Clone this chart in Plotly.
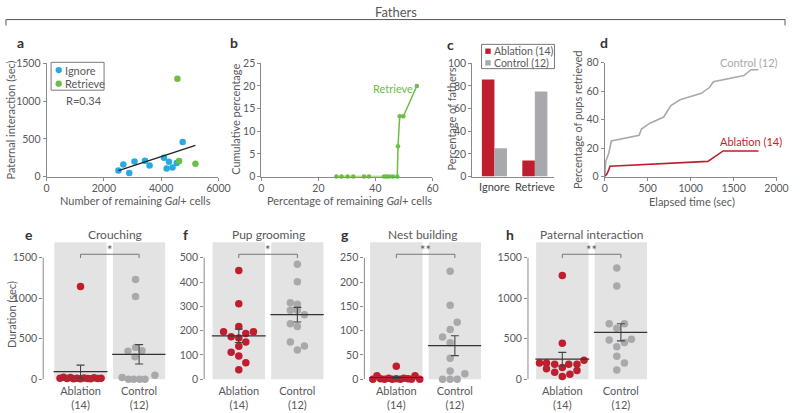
import numpy as np
import plotly.graph_objs as go

# ---- data ----
# a: paternal interaction vs remaining Gal+ cells
ign_cells = [2507, 2679, 2885, 3069, 3435, 3595, 4099, 4191, 4271, 4397, 4546, 4752]
ign_inter = [81, 159, 47, 201, 210, 146, 249, 107, 197, 120, 180, 459]
ret_cells = [4569, 4626, 5198]
ret_inter = [1294, 206, 171]

# b: cumulative percentage of retrievers
b_pct = [26.3, 28.1, 30.2, 32.2, 36.0, 37.7, 43.0, 43.9, 44.8, 46.1, 47.65, 47.9, 48.5, 49.8, 54.5]
b_cum = [0, 0, 0, 0, 0, 0, 0, 0, 0, 0, 0, 6.67, 13.3, 13.3, 20]

# c: percentage of fathers
c_cats = ["Ignore", "Retrieve"]
c_abl = [85.7, 14.3]
c_ctl = [25, 75]

# d: percentage of pups retrieved over time
d_ctl_t = [0, 11, 46, 55, 76, 400, 427, 526, 686, 770, 876, 1124, 1219, 1265, 1619, 1703, 1790]
d_ctl_p = [0, 10.7, 16.4, 18.5, 25, 29, 33.4, 37.5, 41.8, 49.8, 53.9, 58.4, 62.5, 66.6, 70.9, 75, 75]
d_abl_t = [0, 25, 45, 60, 1200, 1379, 1790]
d_abl_p = [0, 2, 4.5, 7.3, 10.7, 18, 18]

# e-h: durations (sec), with swarm offsets
e_abl = [1144, 10, 24, 8, 20, 5, 12, 6, 15, 9, 4, 18, 7, 11]
e_abl_dx = [0, -0.35, -0.29, -0.23, -0.17, -0.12, -0.06, 0, 0.06, 0.12, 0.17, 0.23, 0.29, 0.35]
e_ctl = [1232, 1020, 344, 392, 352, 276, 20, 0, 0, 0, 0, 48]
e_ctl_dx = [-0.06, -0.06, -0.19, -0.06, 0.05, -0.07, -0.29, -0.18, -0.09, 0.01, 0.1, 0.27]

f_abl = [448, 311, 217, 195, 175, 169, 188, 195, 153, 135, 111, 95, 68, 39]
f_abl_dx = [0, 0, 0, -0.26, -0.13, 0, 0.12, 0.25, 0.12, 0, -0.13, 0, 0.12, 0]
f_ctl = [473, 401, 315, 308, 284, 284, 265, 228, 217, 153, 137, 120]
f_ctl_dx = [0, 0, -0.12, 0, -0.12, 0, 0.12, -0.12, 0, -0.12, 0.12, 0]

g_abl = [26.6, 0, 7, 1, 0, 2, 0, 1, 0, 2, 1, 0, 7, 0]
g_abl_dx = [0, -0.4, -0.33, -0.27, -0.2, -0.13, -0.07, 0, 0.07, 0.13, 0.2, 0.26, 0.32, 0.4]
g_ctl = [222, 152, 117, 102, 87, 75, 43, 17, 11, 0, 0, 0]
g_ctl_dx = [-0.08, -0.08, 0.04, -0.08, -0.21, -0.08, -0.08, -0.08, 0.17, -0.21, -0.08, 0.04]

h_abl = [1280, 444, 200, 200, 184, 184, 184, 232, 128, 84, 144, 60, 108, 32]
h_abl_dx = [0, 0, -0.39, -0.27, -0.13, 0.11, 0.25, 0.37, -0.27, -0.13, 0, 0.13, 0.25, 0]
h_ctl = [1372, 1152, 684, 684, 628, 484, 492, 452, 400, 284, 200, 112]
h_ctl_dx = [-0.07, -0.07, -0.2, 0.06, -0.07, -0.2, 0.18, 0.06, -0.07, -0.07, 0.06, -0.07]

# ---- style ----
W, H = 800, 413
FONT = "Lato, 'Open Sans', sans-serif"
TXT = "#58595b"
AX = "#8a8a8a"
RED = "#be1e2d"
GRAY = "#a7a9ac"
BLUE = "#27aae1"
GREEN = "#6dbe45"
BG = "#e3e3e3"
TICK = 10.5


def px(x):
    return x / W


def py(y):
    return 1 - y / H


def note(text, x, y, size=11, color=TXT, xa="center", angle=0, bold=False):
    if bold:
        text = "<b>" + text + "</b>"
    return dict(text=text, x=px(x), y=py(y), xref="paper", yref="paper", showarrow=False,
                xanchor=xa, yanchor="middle", textangle=angle, borderpad=0,
                font=dict(size=size, color=color, family=FONT))


def axis(**kw):
    d = dict(showline=True, linecolor=AX, linewidth=1, ticks="outside", ticklen=3, tickcolor=AX,
             tickfont=dict(size=TICK, color=TXT), showgrid=False, zeroline=False)
    d.update(kw)
    return d


fig = go.Figure()
shapes = []
annots = []

# ---- a ----
fig.add_trace(go.Scatter(x=ign_cells, y=ign_inter, mode="markers", marker=dict(color=BLUE, size=6.5),
                         xaxis="x", yaxis="y", showlegend=False, cliponaxis=False))
fig.add_trace(go.Scatter(x=ret_cells, y=ret_inter, mode="markers", marker=dict(color=GREEN, size=6.5),
                         xaxis="x", yaxis="y", showlegend=False, cliponaxis=False))
all_x = np.array(ign_cells + ret_cells, dtype=float)
all_y = np.array(ign_inter + ret_inter, dtype=float)
k, b0 = np.polyfit(all_x, all_y, 1)
r = np.corrcoef(all_x, all_y)[0, 1]
fx = np.array([all_x.min(), all_x.max()])
fig.add_trace(go.Scatter(x=fx, y=k * fx + b0, mode="lines", line=dict(color="#222", width=1.3),
                         xaxis="x", yaxis="y", showlegend=False))

# ---- b ----
fig.add_trace(go.Scatter(x=b_pct, y=b_cum, mode="lines+markers", line=dict(color=GREEN, width=1.5),
                         marker=dict(color=GREEN, size=4.5), xaxis="x2", yaxis="y2",
                         showlegend=False, cliponaxis=False))

# ---- c ----
fig.add_trace(go.Bar(x=c_cats, y=c_abl, marker=dict(color=RED, line_width=0), xaxis="x3", yaxis="y3",
                     showlegend=False))
fig.add_trace(go.Bar(x=c_cats, y=c_ctl, marker=dict(color=GRAY, line_width=0), xaxis="x3", yaxis="y3",
                     showlegend=False))

# ---- d ----
fig.add_trace(go.Scatter(x=d_ctl_t, y=d_ctl_p, mode="lines", line=dict(color=GRAY, width=1.6),
                         xaxis="x4", yaxis="y4", showlegend=False))
fig.add_trace(go.Scatter(x=d_abl_t, y=d_abl_p, mode="lines", line=dict(color=RED, width=1.6),
                         xaxis="x4", yaxis="y4", showlegend=False))

# ---- e-h ----
bottom = [
    ("e", "Crouching", "*", e_abl, e_abl_dx, e_ctl, e_ctl_dx, 1500, 500, 41, 79, 113.7, 27),
    ("f", "Pup grooming", "*", f_abl, f_abl_dx, f_ctl, f_ctl_dx, 500, 100, 205, 240.3, 270.8, 186),
    ("g", "Nest building", "**", g_abl, g_abl_dx, g_ctl, g_ctl_dx, 250, 50, 368.3, 400.8, 428.3, 349),
    ("h", "Paternal interaction", "**", h_abl, h_abl_dx, h_ctl, h_ctl_dx, 1500, 500, 535, 570, 599.5, 517),
]
UNIT = 59.7
Y0, Y1500, YTOP = 384.3, 259.3, 243.3
layout_axes = {}
for i, (lab, title, star, abl, abl_dx, ctl, ctl_dx, ymax, dt, ax_px, c_px, t_px, l_px) in enumerate(bottom):
    n = i + 5
    xa, ya = "x%d" % n, "y%d" % n
    top = ymax * (Y0 - YTOP) / (Y0 - Y1500)
    left = -(c_px - ax_px) / UNIT
    right = 1.45
    layout_axes["xaxis%d" % n] = dict(domain=[px(ax_px), px(c_px + right * UNIT)], range=[left, right],
                                      anchor=ya, showline=False, showgrid=False, zeroline=False,
                                      tickvals=[0, 1], ticktext=["Ablation<br>(14)", "Control<br>(12)"],
                                      ticks="", ticklabelstandoff=4,
                                      tickfont=dict(size=11, color=TXT))
    layout_axes["yaxis%d" % n] = axis(domain=[py(Y0), py(YTOP)], range=[0, top], anchor=xa,
                                      showline=False, tickvals=list(range(0, ymax + 1, dt)))
    # y axis line only up to the last tick
    shapes.append(dict(type="line", xref=xa + " domain", yref=ya, x0=0, x1=0, y0=0, y1=ymax,
                       line=dict(color=AX, width=1)))
    for cx in (0, 1):
        shapes.append(dict(type="rect", xref=xa, yref=ya + " domain", x0=cx - 0.447, x1=cx + 0.447,
                           y0=0, y1=1, fillcolor=BG, line_width=0, layer="below"))
    for cx, vals, dx, col in ((0, abl, abl_dx, RED), (1, ctl, ctl_dx, GRAY)):
        vals = np.array(vals, dtype=float)
        fig.add_trace(go.Scatter(x=cx + np.array(dx), y=vals, mode="markers",
                                 marker=dict(color=col, size=7.5), xaxis=xa, yaxis=ya,
                                 showlegend=False, cliponaxis=False))
        m = vals.mean()
        sem = vals.std(ddof=1) / np.sqrt(len(vals))
        shapes.append(dict(type="line", xref=xa, yref=ya, x0=cx - 0.46, x1=cx + 0.46, y0=m, y1=m,
                           line=dict(color="#333", width=1.2), layer="above"))
        fig.add_trace(go.Scatter(x=[cx], y=[m], mode="markers", marker=dict(size=1, opacity=0),
                                 error_y=dict(type="data", array=[sem], visible=True, width=4,
                                              thickness=1.1, color="#444"),
                                 xaxis=xa, yaxis=ya, showlegend=False, cliponaxis=False))
    # significance bracket
    shapes.append(dict(type="path", xref=xa, yref="paper",
                       path="M 0,%f L 0,%f L 1,%f L 1,%f" % (py(259.6), py(255.7), py(255.7), py(259.6)),
                       line=dict(color="#777", width=1)))
    annots.append(dict(text=star, xref=xa, yref="paper", x=0.5, y=py(251.5), showarrow=False,
                       xanchor="center", yanchor="middle", borderpad=0,
                       font=dict(size=13, color=TXT, family=FONT)))
    annots.append(note(title, t_px, 235.7, size=12))
    annots.append(note(lab, l_px, 235.7, size=14, color="#333", bold=True))

annots.append(note("Duration (sec)", 8, 317.5, angle=-90))

# ---- top panel axes ----
layout_axes.update(
    xaxis=axis(domain=[px(44.5), px(219.5)], range=[0, 6000], tickvals=[0, 2000, 4000, 6000], anchor="y",
               ticklabelstandoff=-1),
    yaxis=axis(domain=[py(175.7), py(59)], range=[0, 1500], tickvals=[0, 500, 1000, 1500], anchor="x"),
    xaxis2=axis(domain=[px(263.3), px(437.7)], range=[0, 60], tickvals=[0, 20, 40, 60], anchor="y2",
                ticklabelstandoff=-1),
    yaxis2=axis(domain=[py(175.7), py(59)], range=[0, 25], dtick=5, anchor="x2"),
    xaxis3=axis(domain=[px(478.3), px(562)], range=[-0.546, 1.485], ticks="", anchor="y3",
                tickfont=dict(size=11, color="#444")),
    yaxis3=axis(domain=[py(175.7), py(59)], range=[0, 100], dtick=20, anchor="x3"),
    xaxis4=axis(domain=[px(613.3), px(788.3)], range=[0, 2000], dtick=500, anchor="y4",
                ticklabelstandoff=-1),
    yaxis4=axis(domain=[py(175.7), py(58.3)], range=[0, 80], dtick=20, anchor="x4"),
)

# titles / labels for top row
annots += [
    note("Fathers", 400, 6, size=13),
    note("a", 18, 38, size=14, color="#333", bold=True),
    note("b", 235, 38, size=14, color="#333", bold=True),
    note("c", 456, 40, size=14, color="#333", bold=True),
    note("d", 612, 38, size=14, color="#333", bold=True),
    note("Paternal interaction (sec)", 8, 117, angle=-90),
    note("Number of remaining <i>Gal</i>+ cells", 135, 200.5),
    note("Cumulative percentage", 237, 116.7, angle=-90),
    note("Percentage of remaining <i>Gal</i>+ cells", 353, 200.5),
    note("Percentage of fathers", 457, 116.5, angle=-90),
    note("Percentage of pups retrieved", 585, 117.5, angle=-90),
    note("Elapsed time (sec)", 701.7, 201),
    note("R=%.2f" % r, 63, 97.5, xa="left"),
    note("Retrieve", 376, 84.7, color=GREEN, xa="left"),
    note("Control (12)", 791, 58.3, color=GRAY, xa="right"),
    note("Ablation (14)", 795, 140, color=RED, xa="right"),
    # legend a
    note("Ignore", 62.5, 66, xa="left"),
    note("Retrieve", 62.5, 80, xa="left"),
    # legend c
    note("Ablation (14)", 499.5, 46.5, size=10.5, xa="left"),
    note("Control (12)", 499.5, 58.5, size=10.5, xa="left"),
]

# header bracket
shapes += [
    dict(type="line", xref="paper", yref="paper", x0=px(3), x1=px(797), y0=py(14), y1=py(14),
         line=dict(color="#555", width=1)),
    dict(type="line", xref="paper", yref="paper", x0=px(3), x1=px(3), y0=py(14), y1=py(20),
         line=dict(color="#555", width=1)),
    dict(type="line", xref="paper", yref="paper", x0=px(797), x1=px(797), y0=py(14), y1=py(20),
         line=dict(color="#555", width=1)),
]
# legend boxes and keys
shapes += [
    dict(type="rect", xref="paper", yref="paper", x0=px(49), x1=px(103), y0=py(86.7), y1=py(58),
         line=dict(color="#777", width=1)),
    dict(type="circle", xref="paper", yref="paper", x0=px(53.5), x1=px(60), y0=py(69.2), y1=py(62.7),
         fillcolor=BLUE, line_width=0),
    dict(type="circle", xref="paper", yref="paper", x0=px(53.5), x1=px(60), y0=py(83.2), y1=py(76.7),
         fillcolor=GREEN, line_width=0),
    dict(type="rect", xref="paper", yref="paper", x0=px(487.7), x1=px(562), y0=py(64.5), y1=py(39.5),
         line=dict(color="#777", width=1)),
    dict(type="rect", xref="paper", yref="paper", x0=px(491.5), x1=px(497), y0=py(49.3), y1=py(43.8),
         fillcolor=RED, line_width=0),
    dict(type="rect", xref="paper", yref="paper", x0=px(491.5), x1=px(497), y0=py(61.3), y1=py(55.8),
         fillcolor=GRAY, line_width=0),
]

fig.update_layout(
    width=W, height=H, margin=dict(l=0, r=0, t=0, b=0),
    paper_bgcolor="white", plot_bgcolor="rgba(0,0,0,0)",
    font=dict(family=FONT, size=11, color=TXT),
    barmode="group", bargap=0.38, bargroupgap=0,
    showlegend=False, shapes=shapes, annotations=annots,
    **layout_axes,
)

# pin the figure to the page corner (no default body margin)
pin = ("document.body.style.margin='0';document.body.style.overflow='hidden';"
       "var gd=document.getElementById('{plot_id}');gd.style.position='fixed';"
       "gd.style.left='0px';gd.style.top='0px';")
fig.write_html("out.html", post_script=pin, config={"displayModeBar": False})
